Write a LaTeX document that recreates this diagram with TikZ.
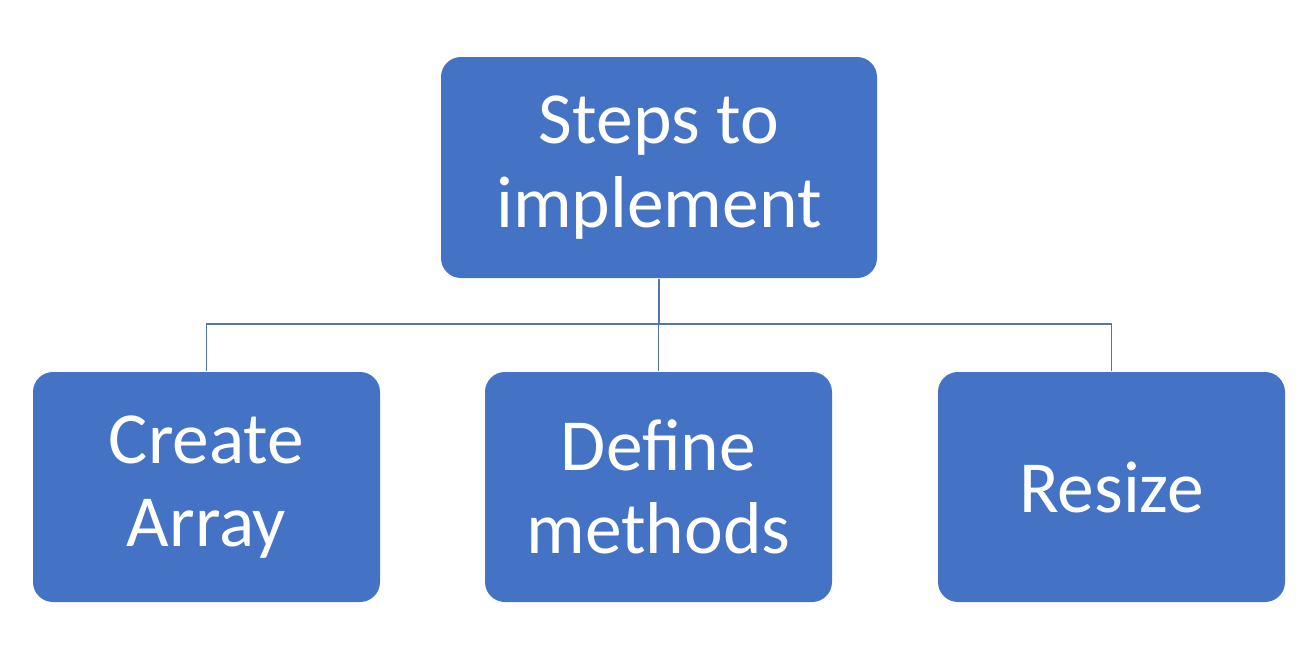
\documentclass[tikz,border=0pt]{standalone}
\usepackage{fontspec}
\setmainfont{Carlito}
\usepackage{tikz}
\usetikzlibrary{positioning}

\definecolor{boxblue}{RGB}{68,114,196}
\definecolor{lineblue}{RGB}{84,116,176}

\tikzset{
    stepbox/.style={rectangle, rounded corners=0.2cm, fill=boxblue, draw=none,
        text=white, align=center, inner sep=0pt,
        font=\fontsize{20.9pt}{23.7pt}\selectfont},
    link/.style={draw=lineblue, line width=0.35pt}
}

\begin{document}
\begin{tikzpicture}
    \useasboundingbox[fill=white] (0,0) rectangle (13.15,-6.57);

    % oberer Kasten
    \node[stepbox, minimum width=4.36cm, minimum height=2.21cm] (top) at (6.59,-1.675) {Steps to\\implement};

    % untere Kaesten
    \node[stepbox, minimum width=3.47cm, minimum height=2.30cm] (create) at (2.065,-4.87) {Create\\Array};
    \node[stepbox, minimum width=3.47cm, minimum height=2.30cm] (define) at (6.585,-4.87) {Define\\methods};
    \node[stepbox, minimum width=3.47cm, minimum height=2.30cm] (resize) at (11.115,-4.87) {Resize};

    \coordinate (bus) at (6.59,-3.24);

    \draw[link] (top.south) -- (bus);
    \foreach \c in {create,define,resize} {\draw[link] (bus) -| (\c.north);}
\end{tikzpicture}
\end{document}
